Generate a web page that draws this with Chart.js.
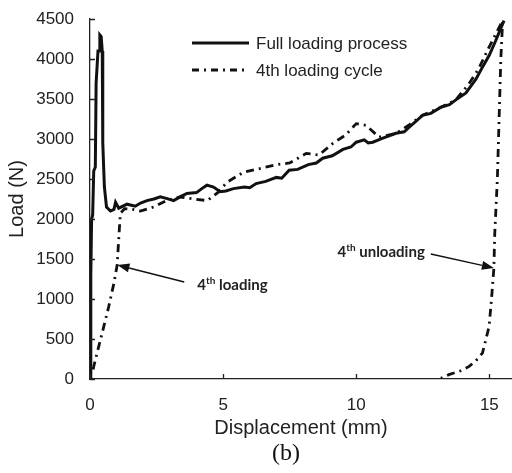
<!DOCTYPE html>
<html>
<head>
<meta charset="utf-8">
<script src="https://cdn.jsdelivr.net/npm/chart.js@4.4.1/dist/chart.umd.min.js"></script>
<style>
  html, body { margin: 0; padding: 0; background: #fff; }
  #wrap { width: 512px; height: 473px; }
</style>
</head>
<body>
<div id="wrap"><canvas id="loadChart" width="512" height="473"></canvas></div>
<script>
// Full loading process (solid)
const fullX = [0, 0.03, 0.06, 0.1, 0.14, 0.2, 0.23, 0.3, 0.34, 0.37, 0.42, 0.46, 0.48, 0.54, 0.62, 0.77, 0.9, 0.96, 1.08, 1.39, 1.7, 1.9, 2.14, 2.4, 2.64, 2.9, 3.14, 3.4, 3.64, 4.0, 4.2, 4.39, 4.64, 4.89, 5.1, 5.39, 5.8, 6.0, 6.24, 6.6, 7.0, 7.2, 7.48, 7.8, 8.2, 8.5, 8.74, 9.1, 9.5, 9.8, 10.0, 10.3, 10.45, 10.62, 11.0, 11.49, 11.8, 12.0, 12.49, 12.8, 13.2, 13.5, 13.74, 14.12, 14.5, 14.74, 15.0, 15.24, 15.55];
const fullY = [0, 1300, 2000, 2050, 2600, 2650, 3700, 4100, 4100, 4300, 4280, 4100, 2950, 2400, 2150, 2100, 2120, 2210, 2135, 2185, 2160, 2200, 2230, 2250, 2277, 2255, 2230, 2280, 2320, 2330, 2380, 2423, 2400, 2340, 2350, 2380, 2400, 2390, 2443, 2470, 2520, 2510, 2610, 2620, 2680, 2700, 2760, 2790, 2870, 2900, 2960, 2990, 2950, 2960, 3010, 3071, 3090, 3150, 3296, 3320, 3400, 3430, 3489, 3575, 3750, 3898, 4050, 4231, 4480];

// 4th loading cycle (dash-dot), loading then unloading
const cycleX = [0.12, 0.14, 0.4, 0.7, 0.9, 1.02, 1.1, 1.14, 1.3, 1.6, 1.89, 2.39, 2.9, 3.39, 3.9, 4.4, 4.8, 5.15, 5.77, 6.24, 7.0, 7.5, 8.12, 8.6, 9.12, 9.6, 10.0, 10.37, 10.86, 11.5, 12.0, 12.49, 13.2, 13.74, 14.24, 14.6, 14.98, 15.25, 15.5, 15.43, 15.3, 15.2, 15.17, 15.08, 14.99, 14.74, 14.5, 14.24, 13.9, 13.48, 13.18];
const cycleY = [120, 157, 500, 900, 1200, 1425, 1862, 2070, 2130, 2120, 2100, 2150, 2236, 2275, 2250, 2230, 2330, 2461, 2585, 2620, 2680, 2700, 2820, 2800, 2945, 3050, 3192, 3170, 3023, 3070, 3180, 3296, 3400, 3489, 3694, 3880, 4143, 4320, 4480, 4000, 2500, 1800, 1388, 1000, 656, 324, 230, 157, 100, 54, 10];

const xTicks = [0, 5, 10, 15];
const yTicks = [0, 500, 1000, 1500, 2000, 2500, 3000, 3500, 4000, 4500];

const legendLabels = ['Full loading process', '4th loading cycle'];
// annotation: label, text anchor (data), arrow head (data)
const noteLabels = [['4', 'th', ' loading'], ['4', 'th', ' unloading']];
const noteTail = [[3.54, 1213], [12.8, 1562]];
const noteHead = [[1.03, 1425], [15.17, 1388]];

const INK = '#111';
const DASH = [8, 5, 2, 5];
const AXIS_FONT = '"Liberation Sans", Arial, sans-serif';
const NOTE_FONT = 'Lato, "Open Sans", sans-serif';

function toPoints(xs, ys) {
    return xs.map((x, i) => ({ x: x, y: ys[i] }));
}

const extras = {
    id: 'extras',
    afterDraw(chart) {
        const ctx = chart.ctx;
        const xs = chart.scales.x;
        const ys = chart.scales.y;
        const area = chart.chartArea;
        ctx.save();

        // inward tick marks
        ctx.strokeStyle = '#222';
        ctx.lineWidth = 1.3;
        ctx.beginPath();
        xTicks.forEach(v => {
            const px = Math.round(xs.getPixelForValue(v)) + 0.5;
            ctx.moveTo(px, area.bottom);
            ctx.lineTo(px, area.bottom - 5);
        });
        yTicks.forEach(v => {
            const py = Math.round(ys.getPixelForValue(v)) + 0.5;
            ctx.moveTo(area.left, py);
            ctx.lineTo(area.left + 5, py);
        });
        ctx.stroke();

        // legend
        const rows = [43, 70];
        ctx.strokeStyle = INK;
        ctx.lineWidth = 3;
        rows.forEach((y, i) => {
            ctx.setLineDash(i === 0 ? [] : [7, 5, 2, 5]);
            ctx.beginPath();
            ctx.moveTo(192, y);
            ctx.lineTo(249, y);
            ctx.stroke();
        });
        ctx.setLineDash([]);
        ctx.fillStyle = '#222';
        ctx.font = '17px ' + AXIS_FONT;
        ctx.textBaseline = 'middle';
        ctx.textAlign = 'left';
        rows.forEach((y, i) => ctx.fillText(legendLabels[i], 256, y + 1));

        // annotations with arrows
        noteLabels.forEach((parts, i) => {
            const tx = xs.getPixelForValue(noteTail[i][0]);
            const ty = ys.getPixelForValue(noteTail[i][1]);
            const hx = xs.getPixelForValue(noteHead[i][0]);
            const hy = ys.getPixelForValue(noteHead[i][1]);
            ctx.strokeStyle = INK;
            ctx.fillStyle = INK;
            ctx.lineWidth = 1.4;
            const ang = Math.atan2(hy - ty, hx - tx);
            const len = 12, wid = 4.5;
            const bx = hx - Math.cos(ang) * len;
            const by = hy - Math.sin(ang) * len;
            ctx.beginPath();
            ctx.moveTo(tx, ty);
            ctx.lineTo(bx, by);
            ctx.stroke();
            ctx.beginPath();
            ctx.moveTo(hx, hy);
            ctx.lineTo(bx - Math.sin(ang) * wid, by + Math.cos(ang) * wid);
            ctx.lineTo(bx + Math.sin(ang) * wid, by - Math.cos(ang) * wid);
            ctx.closePath();
            ctx.fill();

            // text: big "4", superscript "th", rest
            const big = 'bold 15px ' + NOTE_FONT;
            const small = 'bold 10px ' + NOTE_FONT;
            ctx.font = big;
            const w0 = ctx.measureText(parts[0]).width;
            const w2 = ctx.measureText(parts[2]).width;
            ctx.font = small;
            const w1 = ctx.measureText(parts[1]).width;
            let x0 = i === 0 ? tx + 13 : tx - 6 - (w0 + w1 + w2);
            const y0 = i === 0 ? ty + 8 : ty + 3;
            ctx.fillStyle = '#222';
            ctx.textBaseline = 'alphabetic';
            ctx.font = big;
            ctx.fillText(parts[0], x0, y0);
            x0 += w0;
            ctx.font = small;
            ctx.fillText(parts[1], x0, y0 - 6);
            x0 += w1;
            ctx.font = big;
            ctx.fillText(parts[2], x0, y0);
        });

        // panel label
        ctx.fillStyle = '#111';
        ctx.font = '24px "Liberation Serif", "Times New Roman", serif';
        ctx.textAlign = 'center';
        ctx.textBaseline = 'middle';
        ctx.fillText('(b)', 286, 454);
        ctx.restore();
    }
};

new Chart(document.getElementById('loadChart'), {
    type: 'scatter',
    data: {
        datasets: [
            {
                label: legendLabels[0],
                data: toPoints(fullX, fullY),
                showLine: true,
                borderColor: INK,
                borderWidth: 3,
                pointRadius: 0,
                tension: 0
            },
            {
                label: legendLabels[1],
                data: toPoints(cycleX, cycleY),
                showLine: true,
                borderColor: INK,
                borderWidth: 2.8,
                borderDash: DASH,
                pointRadius: 0,
                tension: 0
            }
        ]
    },
    options: {
        responsive: false,
        animation: false,
        layout: { padding: { top: 19, right: 0, left: 0, bottom: 0 } },
        plugins: {
            legend: { display: false },
            tooltip: { enabled: false }
        },
        scales: {
            x: {
                type: 'linear',
                min: 0,
                max: 15.85,
                afterBuildTicks: (s) => { s.ticks = xTicks.map(v => ({ value: v })); },
                afterFit: (s) => { s.height = 94; },
                grid: { display: false },
                border: { display: true, color: '#222', width: 1.3 },
                ticks: {
                    padding: 8,
                    color: '#222',
                    font: { family: AXIS_FONT, size: 17 },
                    maxRotation: 0,
                    callback: (v) => String(v)
                },
                title: {
                    display: true,
                    text: 'Displacement (mm)',
                    color: '#222',
                    font: { family: AXIS_FONT, size: 20 },
                    padding: { top: 0, bottom: 33 }
                }
            },
            y: {
                type: 'linear',
                min: 0,
                max: 4500,
                afterBuildTicks: (s) => { s.ticks = yTicks.map(v => ({ value: v })); },
                afterFit: (s) => { s.width = 90; },
                grid: { display: false },
                border: { display: true, color: '#222', width: 1.3 },
                ticks: {
                    padding: 8,
                    color: '#222',
                    font: { family: AXIS_FONT, size: 17 },
                    callback: (v) => String(v)
                },
                title: {
                    display: true,
                    text: 'Load (N)',
                    color: '#222',
                    font: { family: AXIS_FONT, size: 20 },
                    padding: { top: 5, bottom: 0 }
                }
            }
        }
    },
    plugins: [extras]
});
</script>
</body>
</html>
